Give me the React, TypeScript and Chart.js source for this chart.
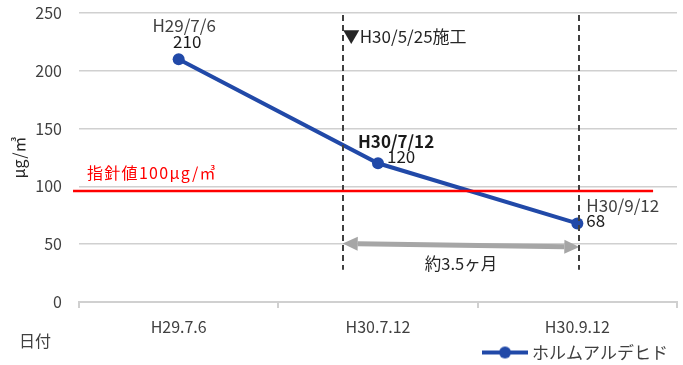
import React, { useEffect, useRef } from "react";
import { Chart, registerables } from "chart.js";

Chart.register(...registerables);

// ---- data ----
const categories = ["H29.7.6", "H30.7.12", "H30.9.12"];
const values = [210, 120, 68];
const pointDates = ["H29/7/6", "H30/7/12", "H30/9/12"];
const seriesName = "ホルムアルデヒド";
const yMin = 0;
const yMax = 250;
const yStep = 50;
const yTitle = "μg/㎥";
const xTitle = "日付";

// annotations (data units: x = category index, y = value)
const guideValue = 96;
const guideSpan = [-0.53, 2.38];
const guideText = "指針値100μg/㎥";
const workLinesX = [0.823, 2.01];
const workLineBottom = 28;
const workText = "▼H30/5/25施工";
const workTextY = 230;
const arrowX = [0.823, 2.01];
const arrowYs = [50.5, 47.5];
const arrowText = "約3.5ヶ月";
const arrowTextY = 33;

const FONT = "'Noto Sans CJK JP', 'Noto Sans', sans-serif";
const BLUE = "#2149A8";

function makeLegendIcon(): HTMLCanvasElement {
  const c = document.createElement("canvas");
  c.width = 46;
  c.height = 14;
  const g = c.getContext("2d")!;
  g.strokeStyle = BLUE;
  g.lineWidth = 4;
  g.beginPath();
  g.moveTo(0, 7);
  g.lineTo(46, 7);
  g.stroke();
  g.fillStyle = BLUE;
  g.beginPath();
  g.arc(23, 7, 6, 0, Math.PI * 2);
  g.fill();
  return c;
}

const annotationPlugin = {
  id: "annots",
  afterLayout(chart: any) {
    const lg = chart.legend;
    if (lg) {
      lg.top += 6;
      lg.bottom += 6;
      lg.left -= 9;
      lg.right -= 9;
    }
  },
  afterDatasetsDraw(chart: any) {
    const { ctx, scales } = chart;
    const x = scales.x;
    const y = scales.y;
    const xp = (v: number) => x.getPixelForDecimal((v + 0.5) / categories.length);
    ctx.save();

    // gray double arrow
    const ax1 = xp(arrowX[0]);
    const ax2 = xp(arrowX[1]);
    const ay1 = y.getPixelForValue(arrowYs[0]);
    const ay2 = y.getPixelForValue(arrowYs[1]);
    const ang = Math.atan2(ay2 - ay1, ax2 - ax1);
    const headL = 15;
    const headW = 7;
    ctx.strokeStyle = "#A6A6A6";
    ctx.fillStyle = "#A6A6A6";
    ctx.lineWidth = 5;
    ctx.beginPath();
    ctx.moveTo(ax1 + Math.cos(ang) * headL, ay1 + Math.sin(ang) * headL);
    ctx.lineTo(ax2 - Math.cos(ang) * headL, ay2 - Math.sin(ang) * headL);
    ctx.stroke();
    const head = (tx: number, ty: number, dir: number) => {
      const bx = tx + Math.cos(dir) * headL;
      const by = ty + Math.sin(dir) * headL;
      const nx = -Math.sin(dir) * headW;
      const ny = Math.cos(dir) * headW;
      ctx.beginPath();
      ctx.moveTo(tx, ty);
      ctx.lineTo(bx + nx, by + ny);
      ctx.lineTo(bx - nx, by - ny);
      ctx.closePath();
      ctx.fill();
    };
    head(ax1, ay1, ang);
    head(ax2, ay2, ang + Math.PI);

    // dashed vertical lines
    ctx.strokeStyle = "#404040";
    ctx.lineWidth = 2;
    ctx.setLineDash([6, 4]);
    for (const wx of workLinesX) {
      const px = Math.round(xp(wx));
      ctx.beginPath();
      ctx.moveTo(px, y.getPixelForValue(yMax) + 2);
      ctx.lineTo(px, y.getPixelForValue(workLineBottom));
      ctx.stroke();
    }
    ctx.setLineDash([]);

    // red guide line
    const gy = y.getPixelForValue(guideValue);
    ctx.strokeStyle = "#FF0000";
    ctx.lineWidth = 2.5;
    ctx.beginPath();
    ctx.moveTo(xp(guideSpan[0]), gy);
    ctx.lineTo(xp(guideSpan[1]), gy);
    ctx.stroke();

    // texts
    ctx.textBaseline = "middle";
    ctx.font = `16px ${FONT}`;
    ctx.fillStyle = "#FF0000";
    ctx.textAlign = "left";
    (ctx as any).letterSpacing = "1.3px";
    ctx.fillText(guideText, chart.chartArea.left + 8, gy - 18);
    (ctx as any).letterSpacing = "0px";

    ctx.font = `17px ${FONT}`;
    ctx.fillStyle = "#262626";
    ctx.fillText(workText, xp(workLinesX[0]), y.getPixelForValue(workTextY));
    ctx.font = `16.5px ${FONT}`;
    ctx.textAlign = "center";
    ctx.fillText(arrowText, (ax1 + ax2) / 2, y.getPixelForValue(arrowTextY));

    // point labels
    const meta = chart.getDatasetMeta(0);
    const p = meta.data.map((el: any) => ({ x: el.x, y: el.y }));
    ctx.font = `17px ${FONT}`;
    ctx.fillStyle = "#404040";
    ctx.textAlign = "center";
    ctx.fillText(pointDates[0], p[0].x + 5.5, p[0].y - 34);
    ctx.fillStyle = "#1a1a1a";
    ctx.fillText(String(values[0]), p[0].x + 8.5, p[0].y - 18);

    ctx.textAlign = "left";
    ctx.font = `bold 17px ${FONT}`;
    ctx.fillStyle = "#1a1a1a";
    ctx.fillText(pointDates[1], p[1].x - 20, p[1].y - 22);
    ctx.font = `17px ${FONT}`;
    ctx.fillText(String(values[1]), p[1].x + 9, p[1].y - 7);

    ctx.fillStyle = "#404040";
    ctx.fillText(pointDates[2], p[2].x + 9, p[2].y - 18);
    ctx.fillStyle = "#1a1a1a";
    ctx.fillText(String(values[2]), p[2].x + 9, p[2].y - 3);

    // x axis title
    ctx.font = `16px ${FONT}`;
    ctx.fillStyle = "#404040";
    ctx.fillText(xTitle, 19, x.bottom + 3);

    ctx.restore();
  },
};

export default function App() {
  const ref = useRef<HTMLCanvasElement | null>(null);
  useEffect(() => {
    document.body.style.margin = "0";
    const icon = makeLegendIcon();
    const chart = new Chart(ref.current!, {
      type: "line",
      data: {
        labels: categories,
        datasets: [
          {
            label: seriesName,
            data: values,
            borderColor: BLUE,
            backgroundColor: BLUE,
            borderWidth: 4,
            pointRadius: 6,
            pointBackgroundColor: BLUE,
            pointBorderWidth: 0,
            tension: 0,
          },
        ],
      },
      options: {
        animation: false,
        responsive: false,
        maintainAspectRatio: false,
        layout: { padding: { top: 13, right: 6, left: 0, bottom: 0 } },
        plugins: {
          legend: {
            position: "bottom",
            align: "end",
            labels: {
              usePointStyle: true,
              pointStyle: icon as any,
              pointStyleWidth: 37,
              padding: 0,
              color: "#404040",
              font: { family: FONT, size: 17 },
            },
          },
          tooltip: { enabled: false },
        },
        scales: {
          x: {
            offset: true,
            grid: {
              offset: true,
              drawOnChartArea: false,
              drawTicks: true,
              tickLength: 6,
              color: "#D0D0D0",
              lineWidth: 2,
            },
            border: { display: true, color: "#D0D0D0", width: 2 },
            ticks: {
              color: "#404040",
              font: { family: FONT, size: 16 },
              padding: 9,
            },
            afterFit: (s: any) => {
              s.height = 36;
            },
          },
          y: {
            min: yMin,
            max: yMax,
            grid: {
              color: "#D0D0D0",
              lineWidth: 1.5,
              drawTicks: true,
              tickLength: 15,
              tickColor: "rgba(0,0,0,0)",
            },
            border: { display: false },
            ticks: {
              stepSize: yStep,
              color: "#404040",
              padding: 2,
              font: { family: FONT, size: 16 },
            },
            title: {
              display: true,
              text: yTitle,
              color: "#262626",
              font: { family: FONT, size: 16 },
              padding: { top: 9, bottom: 0 },
            },
            afterFit: (s: any) => {
              s.width = 79;
            },
          },
        },
      },
      plugins: [annotationPlugin],
    });
    return () => chart.destroy();
  }, []);
  return (
    <div style={{ width: 683, height: 365 }}>
      <canvas ref={ref} width={683} height={365} style={{ display: "block" }} />
    </div>
  );
}
